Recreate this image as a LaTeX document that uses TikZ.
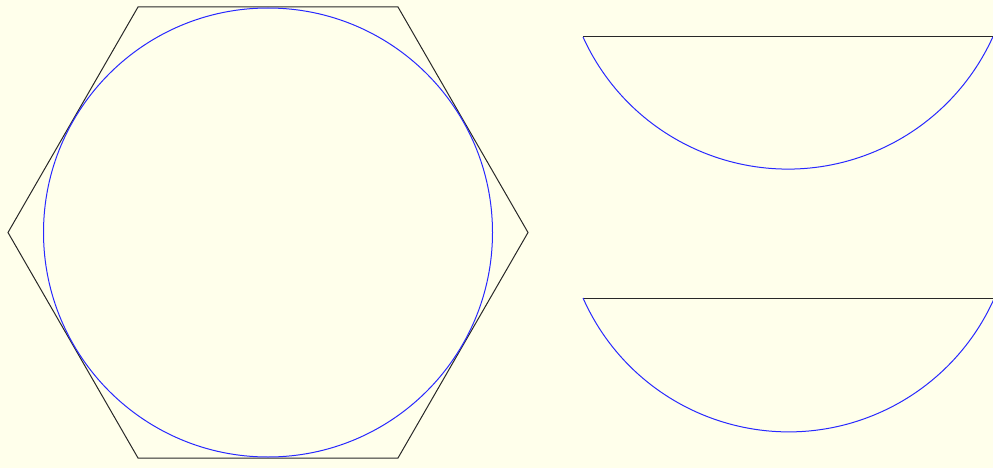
\documentclass[tikz,border=0pt]{standalone}
\usepackage{tikz}
\definecolor{bgyellow}{RGB}{255,255,235}
\definecolor{arcblue}{RGB}{40,40,255}
\definecolor{edgegray}{RGB}{40,40,40}
\tikzset{
  edgeline/.style={draw=edgegray, line width=1pt, line join=miter},
  blueline/.style={draw=arcblue, line width=1pt},
}
\begin{document}
\begin{tikzpicture}[x=1pt,y=-1pt]
  \fill[bgyellow] (0,0) rectangle (993,468);
  \useasboundingbox (0,0) rectangle (993,468);
  \begin{scope}
    \clip (0,0) rectangle (993,468);
    % hexagon
    \coordinate (c) at (268,232.5);
    \draw[edgeline] (8,232.5) -- (138,7) -- (398,7) -- (528,232.5) -- (398,458) -- (138,458) -- cycle;
    \draw[blueline] (c) circle[radius=224.5];
    % upper half-lens
    \coordinate (a1) at (583,37);
    \draw[edgeline] (a1) -- (993,37);
    \draw[blueline] (a1) arc[start angle=155.6, end angle=24.4, radius=225];
    % lower half-lens
    \coordinate (a2) at (583,298);
    \draw[edgeline] (a2) -- (993,298);
    \draw[blueline] (a2) arc[start angle=156.1, end angle=23.9, radius=225];
  \end{scope}
\end{tikzpicture}
\end{document}
